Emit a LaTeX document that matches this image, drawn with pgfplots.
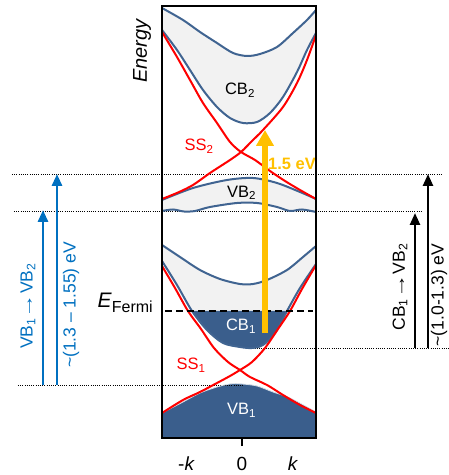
\documentclass[border=0pt]{standalone}
\usepackage{fontspec}
\setmainfont{Liberation Sans}
\usepackage{graphicx}
\usepackage{pgfplots}
\usepackage{pgfplotstable}
\pgfplotsset{compat=1.18}
\usepgfplotslibrary{fillbetween}
\usetikzlibrary{arrows.meta}
\definecolor{bandline}{HTML}{406491}
\definecolor{bandfill}{HTML}{3A5E8C}
\definecolor{lightfill}{HTML}{F2F2F2}
\definecolor{ssred}{HTML}{FF0000}
\definecolor{yel}{HTML}{FFC000}
\definecolor{arrblue}{HTML}{0070C0}
\newcommand{\lab}{\fontsize{16.5bp}{19bp}\selectfont}
\newcommand{\alab}{\fontsize{17.5bp}{20bp}\selectfont}
\newcommand{\arr}{\scalebox{1.4}[1]{→}}

\pgfplotstableread{
x y
162 467
183 455
200 443
217 432
233 422
247 419
260 421
277 428
293 442
307 455
316 465
}\cbtwou
\pgfplotstableread{
x y
162 445
177 425
190 405
203 385
217 368
230 357
243 352
257 353
270 362
283 378
297 403
307 425
316 442
}\cbtwol
\pgfplotstableread{
x y
162 275
193 287
227 295
253 297
277 292
300 283
316 276
}\vbtwou
\pgfplotstableread{
x y
162 264
173 265.5
184 263.5
195 264
210 268
237 272
257 272
277 268
290 264
302 265.5
316 263
}\vbtwol
\pgfplotstableread{
x y
162 230
180 218
200 205
220 196
240 191
253 191
267 195
287 205
303 218
316 229
}\cboneu
\pgfplotstableread{
x y
162 214
177 190
192 164
207 145
223 132
240 128
252 127
263 130
275 142
287 164
300 187
316 211
}\cbonel
\pgfplotstableread{
x y
162 276
178 282.5
193 290
210 302
230 315
241 323
252 334
263 345
283 368
297 392
307 415
316 440
}\sstwoa
\pgfplotstableread{
x y
162 443
177 418
190 395
203 372
217 352
230 333
241 323
255 315
270 304
285 294
300 285
316 276
}\sstwob
\pgfplotstableread{
x y
162 62
183 75
200 83
217 92
230 99
240 105
252 113
265 127
278 146
290 164
302 186
316 210
}\ssonea
\pgfplotstableread{
x y
162 209
175 187
188 164
201 146
214 127
228 113
240 105
250 98
267 90
283 80
300 70
316 62
}\ssoneb
\pgfplotstableread{
x y
162 62
183 73
200 82
217 88
230 91
242 91
257 89
273 83
290 77
316 63
}\vbone

\begin{document}
\begin{tikzpicture}
\begin{axis}[
  scale only axis, width=154bp, height=432bp,
  xmin=162, xmax=316, ymin=37, ymax=469,
  clip=false, axis on top,
  axis line style={line width=2.5bp, black},
  xtick={242}, xticklabels={}, ytick=\empty,
  xtick pos=left, tick align=outside,
  major tick length=8bp,
  tick style={line width=2.5bp, black},
]
\coordinate (BL) at (axis cs:0,0);
\coordinate (TR) at (axis cs:449,475);

% dotted guide lines
\addplot[black, line width=0.8bp, dash pattern=on 1bp off 1.2bp] coordinates {(12,301)(443,301)};
\addplot[black, line width=0.8bp, dash pattern=on 1bp off 1.2bp] coordinates {(14,264)(423,264)};
\addplot[black, line width=0.8bp, dash pattern=on 1bp off 1.2bp] coordinates {(248,127)(449,127)};
\addplot[black, line width=0.8bp, dash pattern=on 1bp off 1.2bp] coordinates {(18,90)(243,90)};

% CB2
\addplot[name path=cbtwou, draw=none, smooth] table {\cbtwou};
\addplot[name path=cbtwol, draw=none, smooth] table {\cbtwol};
\addplot[lightfill] fill between[of=cbtwou and cbtwol];
\addplot[bandline, line width=2bp, smooth] table {\cbtwou};
\addplot[bandline, line width=2bp, smooth] table {\cbtwol};

% VB2
\addplot[name path=vbtwou, draw=none, smooth] table {\vbtwou};
\addplot[name path=vbtwol, draw=none, smooth] table {\vbtwol};
\addplot[lightfill] fill between[of=vbtwou and vbtwol];
\addplot[bandline, line width=2bp, smooth] table {\vbtwou};
\addplot[bandline, line width=2bp, smooth] table {\vbtwol};

% CB1
\addplot[name path=cboneu, draw=none, smooth] table {\cboneu};
\addplot[name path=cbonel, draw=none, smooth] table {\cbonel};
\addplot[name path=fermi, draw=none] coordinates {(162,164)(316,164)};
\addplot[lightfill] fill between[of=cboneu and cbonel];
\addplot[bandfill] fill between[of=cbonel and fermi, soft clip={domain=191.8:286.8}];
\addplot[bandline, line width=2bp, smooth] table {\cboneu};
\addplot[bandline, line width=2bp, smooth] table {\cbonel};

% VB1
\addplot[name path=vbone, draw=none, smooth] table {\vbone};
\addplot[name path=bottom, draw=none] coordinates {(162,37)(316,37)};
\addplot[bandfill] fill between[of=vbone and bottom];
\addplot[white!80!bandfill, line width=0.8bp, smooth] table {\vbone};

% surface states
\addplot[ssred, line width=2bp, smooth] table {\sstwoa};
\addplot[ssred, line width=2bp, smooth] table {\sstwob};
\addplot[ssred, line width=2bp, smooth] table {\ssonea};
\addplot[ssred, line width=2bp, smooth] table {\ssoneb};

% Fermi level
\addplot[black, line width=2.5bp, dash pattern=on 7bp off 4bp] coordinates {(165,164)(313,164)};

% arrows
\addplot[yel, line width=5.7bp, -{Triangle[width=17bp,length=16bp]}] coordinates {(265,142)(265,345)};
\addplot[arrblue, line width=2.8bp, -{Triangle[width=10bp,length=12bp]}] coordinates {(43,90)(43,265)};
\addplot[arrblue, line width=2.8bp, -{Triangle[width=10bp,length=12bp]}] coordinates {(57,90)(57,301)};
\addplot[black, line width=2.5bp, -{Triangle[width=10bp,length=12bp]}] coordinates {(415,127)(415,262)};
\addplot[black, line width=2.5bp, -{Triangle[width=10bp,length=12bp]}] coordinates {(428,127)(428,301)};

% labels
\node[rotate=90, font=\fontsize{20bp}{23bp}\selectfont\itshape] at (axis cs:142,424) {Energy};
\node[anchor=base east, inner sep=0pt] at (axis cs:153,167) {{\fontsize{21bp}{24bp}\selectfont\textit{E}}\raisebox{-4.5bp}{\fontsize{16bp}{18bp}\selectfont Fermi}};
\node[font=\lab] at (axis cs:240,385) {CB\textsubscript{2}};
\node[font=\lab, text=ssred] at (axis cs:199,329) {SS\textsubscript{2}};
\node[font=\lab] at (axis cs:241.5,282) {VB\textsubscript{2}};
\node[font=\lab, text=white] at (axis cs:241,148.5) {CB\textsubscript{1}};
\node[font=\lab, text=ssred] at (axis cs:191,109.5) {SS\textsubscript{1}};
\node[font=\lab, text=white] at (axis cs:241.5,64.5) {VB\textsubscript{1}};
\node[font=\fontsize{16.5bp}{19bp}\selectfont\bfseries, text=yel] at (axis cs:292,311.5) {1.5 eV};
\node[font=\fontsize{19bp}{22bp}\selectfont] at (axis cs:186.5,11.5) {-\textit{k}};
\node[font=\fontsize{19bp}{22bp}\selectfont] at (axis cs:242,11.5) {0};
\node[font=\fontsize{19bp}{22bp}\selectfont] at (axis cs:293,11.5) {\textit{k}};
\node[rotate=90, font=\alab, text=arrblue] at (axis cs:28,169) {VB\textsubscript{1}\arr VB\textsubscript{2}};
\node[rotate=90, font=\alab, text=arrblue] at (axis cs:71,170) {\textasciitilde(1.3 -- 1.55) eV};
\node[rotate=90, font=\alab] at (axis cs:400,188) {CB\textsubscript{1}\arr VB\textsubscript{2}};
\node[rotate=90, font=\alab, inner sep=1bp] at (axis cs:439,180) {\textasciitilde(1.0-1.3) eV};
\end{axis}
\pgfresetboundingbox
\path (BL) rectangle (TR);
\end{tikzpicture}
\end{document}
